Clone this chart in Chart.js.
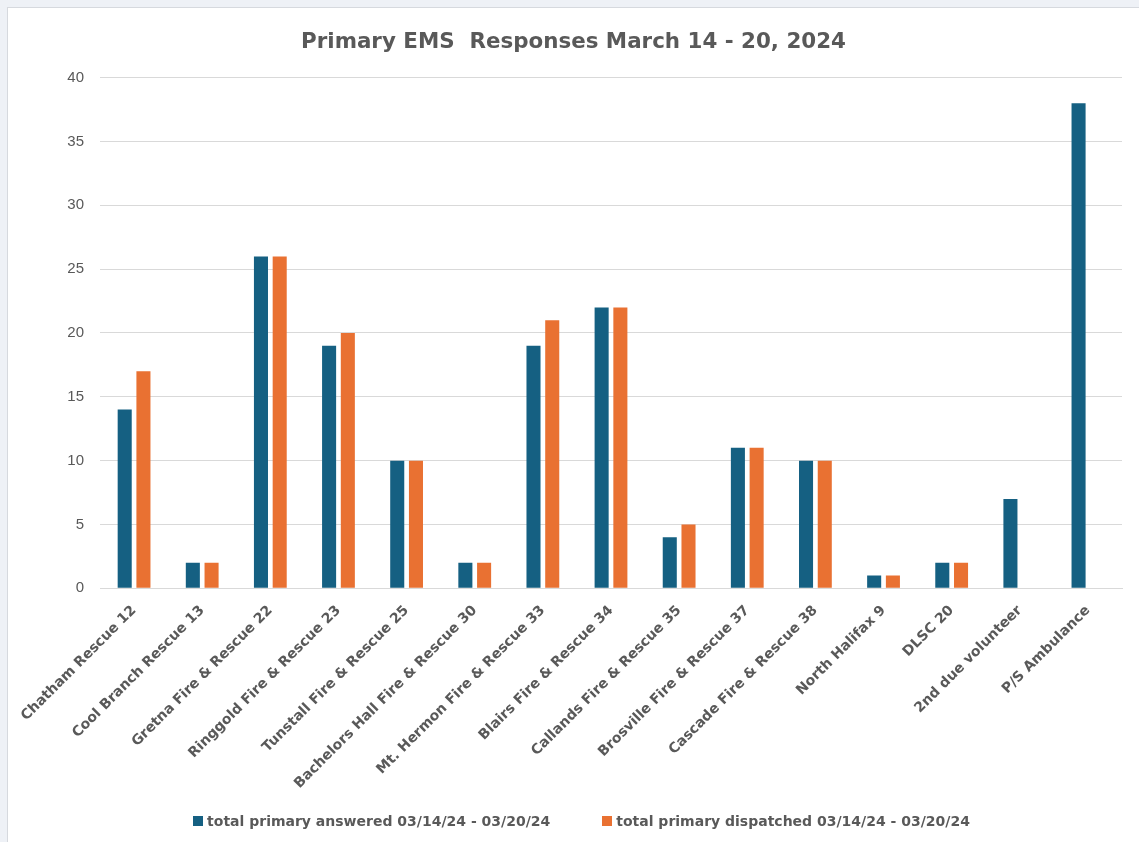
<!DOCTYPE html>
<html>
<head>
<meta charset="utf-8">
<script src="https://cdn.jsdelivr.net/npm/chart.js@4.4.1/dist/chart.umd.min.js"></script>
<style>
    html, body { margin: 0; padding: 0; background: #eef1f6; overflow: hidden; }
    #panel {
        position: absolute; left: 7px; top: 7px; width: 1140px; height: 880px;
        background: #ffffff; border: 1px solid #d6d9de;
    }
    #wrap { position: absolute; left: 0; top: 0; width: 1131px; height: 834px; }
    #legend {
        position: absolute; left: 8px; width: 1131px; top: 802px; height: 22px;
        display: flex; justify-content: center; align-items: center; gap: 52px;
        font: bold 14px "DejaVu Sans", Verdana, sans-serif; color: #595959;
    }
    .legend-item { display: flex; align-items: center; white-space: nowrap; }
    .legend-box { width: 10px; height: 10px; margin-right: 4px; }
</style>
</head>
<body>
<div id="panel">
    <div id="wrap"><canvas id="emsChart"></canvas></div>
    <div id="legend"></div>
</div>
<script>
// stations on the x axis
var stations = [
    'Chatham Rescue 12', 'Cool Branch Rescue 13', 'Gretna Fire & Rescue 22',
    'Ringgold Fire & Rescue 23', 'Tunstall Fire & Rescue 25', 'Bachelors Hall Fire & Rescue 30',
    'Mt. Hermon Fire & Rescue 33', 'Blairs Fire & Rescue 34', 'Callands Fire & Rescue 35',
    'Brosville Fire & Rescue 37', 'Cascade Fire & Rescue 38', 'North Halifax 9',
    'DLSC 20', '2nd due volunteer', 'P/S Ambulance'
];
var answered = [14, 2, 26, 19, 10, 2, 19, 22, 4, 11, 10, 1, 2, 7, 38];
var dispatched = [17, 2, 26, 20, 10, 2, 21, 22, 5, 11, 10, 1, 2, null, null];
var yTicks = [0, 5, 10, 15, 20, 25, 30, 35, 40];

var grey = '#595959';
var wideFont = '"DejaVu Sans", Verdana, sans-serif';
var plainFont = '"Liberation Sans", Arial, sans-serif';

// html legend, built from the chart's own datasets
function buildLegend(chart) {
    var box = document.getElementById('legend');
    box.innerHTML = '';
    chart.data.datasets.forEach(ds => {
        var item = document.createElement('span');
        item.className = 'legend-item';
        var swatch = document.createElement('span');
        swatch.className = 'legend-box';
        swatch.style.background = ds.backgroundColor;
        item.appendChild(swatch);
        item.appendChild(document.createTextNode(ds.label));
        box.appendChild(item);
    });
}

document.addEventListener("DOMContentLoaded", function() {
    var ctx = document.getElementById('emsChart').getContext('2d');

    var chart = new Chart(ctx, {
        type: 'bar',
        data: {
            labels: stations,
            datasets: [{
                label: 'total primary answered 03/14/24 - 03/20/24',
                data: answered,
                backgroundColor: '#156082',
                categoryPercentage: 0.55,
                barPercentage: 0.75,
            }, {
                label: 'total primary dispatched 03/14/24 - 03/20/24',
                data: dispatched,
                backgroundColor: '#E97132',
                categoryPercentage: 0.55,
                barPercentage: 0.75,
            }],
        },
        options: {
            responsive: true,
            maintainAspectRatio: false,
            animation: false,
            layout: {
                padding: { left: 17, right: 17, top: 20, bottom: 44 }
            },
            scales: {
                x: {
                    grid: { display: false },
                    border: { color: '#d9d9d9' },
                    ticks: {
                        color: grey,
                        minRotation: 45,
                        maxRotation: 45,
                        autoSkip: false,
                        padding: 6,
                        font: { family: wideFont, size: 14, weight: 'bold' }
                    }
                },
                y: {
                    min: 0,
                    max: 40,
                    afterBuildTicks: function(axis) {
                        axis.ticks = yTicks.map(v => ({ value: v }));
                    },
                    afterFit: function(axis) {
                        axis.width = 75;
                    },
                    grid: { color: '#d9d9d9', drawTicks: false },
                    border: { display: false },
                    ticks: {
                        color: grey,
                        padding: 16,
                        font: { family: plainFont, size: 15 }
                    }
                }
            },
            plugins: {
                title: {
                    display: true,
                    text: 'Primary EMS  Responses March 14 - 20, 2024',
                    color: grey,
                    font: { family: wideFont, size: 21.4, weight: 'bold' },
                    padding: { top: 2, bottom: 22 }
                },
                legend: { display: false },
                tooltip: { enabled: false }
            }
        }
    });

    buildLegend(chart);
});
</script>
</body>
</html>
